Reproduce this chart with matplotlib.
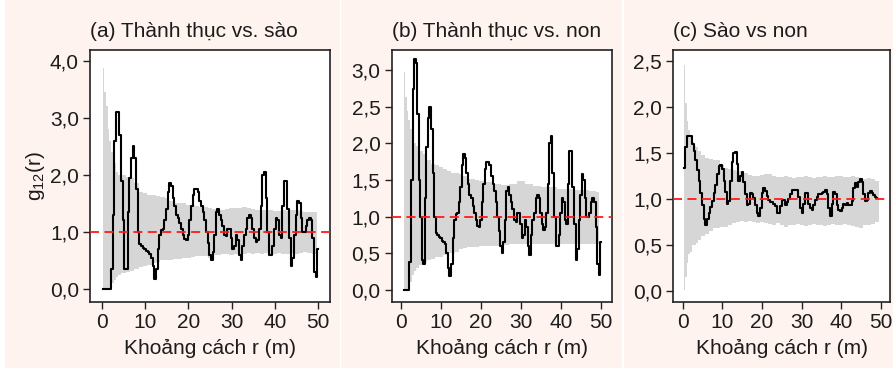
import numpy as np
import matplotlib
matplotlib.use("Agg")
import matplotlib.pyplot as plt
from matplotlib.patches import Rectangle
from matplotlib.ticker import FuncFormatter

plt.rcParams['font.family'] = ['Liberation Sans', 'DejaVu Sans']
plt.rcParams['mathtext.default'] = 'regular'

# ---------------- data ----------------
titles = ["(a) Thành thục vs. sào", "(b) Thành thục vs. non", "(c) Sào vs non"]
xlabel = "Khoảng cách r (m)"
ylabel = "g$_{12}$(r)"

# observed g12(r), panel (a)
g_a = [0, 0, 0, 0, 0, 0.35, 1.3, 2.6, 3.1, 3.1, 2.7, 1.9, 1.2, 0.35, 0.35,
       1.35, 1.95, 2.3, 2.5, 2.3, 1.75, 1.0, 0.78, 0.75, 0.72, 0.7, 0.67, 0.65,
       0.62, 0.55, 0.4, 0.18, 0.35, 0.7, 0.95, 1.03, 1.05, 1.2, 1.4, 1.7, 1.85,
       1.8, 1.6, 1.45, 1.3, 1.25, 1.15, 1.05, 0.95, 0.87, 0.85, 0.95, 1.2, 1.45,
       1.65, 1.75, 1.75, 1.7, 1.55, 1.45, 1.35, 1.2, 1.0, 0.8, 0.6, 0.5, 0.65,
       0.95, 1.35, 1.4, 1.3, 1.2, 1.1, 0.95, 0.92, 1.05, 1.05, 0.9, 0.7, 0.75,
       0.95, 0.85, 0.6, 0.5, 0.75, 0.95, 1.05, 1.25, 1.3, 1.25, 1.05, 0.9, 0.82,
       0.85, 1.05, 1.45, 2.0, 2.05, 1.6, 1.0, 0.6, 0.6, 0.75, 1.05, 1.25, 1.2,
       0.95, 0.9, 1.45, 1.9, 1.9, 1.4, 0.9, 0.4, 0.55, 0.95, 1.3, 1.55, 1.5,
       1.25, 1.0, 1.0, 1.1, 1.2, 1.25, 1.2, 0.9, 0.3, 0.2, 0.7]
r_a = np.linspace(0.385, 50, len(g_a))

# observed g12(r), panel (b)
g_b = [0, 0, 0, 0, 0.38, 1.5, 2.75, 3.15, 3.1, 2.4, 1.5, 1.0, 0.4, 0.35,
       1.25, 1.95, 2.35, 2.5, 2.2, 1.6, 1.0, 0.78, 0.75, 0.72, 0.7, 0.67, 0.65,
       0.62, 0.5, 0.3, 0.18, 0.35, 0.7, 0.95, 1.03, 1.05, 1.2, 1.4, 1.7, 1.85,
       1.8, 1.6, 1.45, 1.3, 1.25, 1.15, 1.05, 0.95, 0.87, 0.85, 0.95, 1.2, 1.45,
       1.65, 1.75, 1.75, 1.7, 1.55, 1.45, 1.35, 1.2, 1.0, 0.8, 0.6, 0.5, 0.65,
       0.95, 1.35, 1.4, 1.3, 1.2, 1.1, 0.95, 0.92, 1.05, 1.05, 0.9, 0.7, 0.75,
       0.95, 0.85, 0.6, 0.47, 0.75, 0.95, 1.05, 1.25, 1.3, 1.25, 1.05, 0.9, 0.82,
       0.85, 1.05, 1.45, 2.0, 2.1, 1.6, 1.0, 0.6, 0.6, 0.75, 1.05, 1.25, 1.2,
       0.95, 0.9, 1.45, 1.9, 1.9, 1.4, 0.9, 0.4, 0.55, 0.95, 1.3, 1.58, 1.5,
       1.25, 1.0, 1.0, 1.05, 1.2, 1.25, 1.2, 0.85, 0.35, 0.2, 0.65]
r_b = np.linspace(0.8, 50, len(g_b))

# observed g12(r), panel (c)
g_c = [1.34, 1.56, 1.68, 1.69, 1.68, 1.6, 1.52, 1.42, 1.32, 1.2, 1.07, 0.93,
       0.78, 0.72, 0.78, 0.85, 0.91, 0.98, 1.06, 1.15, 1.27, 1.36, 1.37, 1.33,
       1.2, 1.08, 0.95, 0.98, 1.2, 1.4, 1.5, 1.51, 1.38, 1.2, 1.25, 1.29, 1.18,
       1.05, 0.93, 0.95, 1.06, 1.05, 1.01, 0.93, 0.85, 0.81, 0.9, 1.06, 1.12,
       1.09, 1.03, 0.99, 0.97, 0.97, 0.95, 0.92, 0.85, 0.85, 0.92, 0.99, 0.99,
       0.93, 0.97, 1.0,
       1.05, 1.1, 1.1, 1.1, 1.1, 1.02, 0.9, 0.85, 0.95, 1.06, 1.07, 0.95, 0.9,
       0.88, 0.93, 0.99, 1.02, 1.05, 1.05, 1.06, 1.08, 1.1, 1.05, 0.9, 0.82,
       0.95, 1.08, 1.05, 0.93, 0.88, 0.87, 0.9, 0.95, 0.94, 0.96, 0.94, 0.93,
       0.98, 1.12, 1.17, 1.13, 1.18, 1.22, 1.18, 1.05, 0.98, 0.99, 1.07, 1.09,
       1.07, 1.04, 1.02, 1.01]
r_c = np.linspace(0.41, 49.1, len(g_c))

# simulation envelopes (r, upper, lower)
env_r_a = [0.4, 0.8, 1.2, 1.6, 2.0, 2.5, 3.0, 3.5, 4, 5, 6, 7, 8, 9, 10, 11, 12,
           13, 14, 15, 16, 17, 18, 19, 20, 21, 22, 23, 24, 25, 26, 27, 28, 29,
           30, 31, 32, 33, 34, 35, 36, 37, 38, 39, 40, 41, 42, 43, 44, 45, 46,
           47, 48, 49, 49.6]
env_hi_a = [3.87, 3.45, 3.2, 2.8, 2.6, 2.4, 2.2, 2.05, 2.0, 2.0, 1.97, 1.95,
            1.85, 1.7, 1.68, 1.65, 1.65, 1.63, 1.62, 1.6, 1.55, 1.5, 1.5, 1.5,
            1.48, 1.47, 1.45, 1.44, 1.44, 1.42, 1.4, 1.38, 1.38, 1.4, 1.42,
            1.42, 1.42, 1.43, 1.42, 1.4, 1.38, 1.38, 1.38, 1.38, 1.37, 1.37,
            1.38, 1.37, 1.38, 1.38, 1.37, 1.35, 1.34, 1.35, 1.35]
env_lo_a = [0, 0, 0, 0, 0, 0.1, 0.15, 0.2, 0.25, 0.28, 0.3, 0.32, 0.35, 0.39,
            0.4, 0.42, 0.45, 0.47, 0.5, 0.5, 0.5, 0.52, 0.53, 0.54, 0.55, 0.56,
            0.57, 0.58, 0.57, 0.55, 0.6, 0.6, 0.62, 0.62, 0.6, 0.62, 0.6, 0.62,
            0.63, 0.62, 0.63, 0.62, 0.63, 0.62, 0.62, 0.63, 0.62, 0.62, 0.63,
            0.62, 0.63, 0.65, 0.63, 0.62, 0.62]

env_r_b = [0.8, 1.2, 1.6, 2.0, 2.5, 3.0, 3.5, 4, 5, 6, 7, 8, 9, 10, 11, 12, 13,
           14, 15, 16, 17, 18, 19, 20, 22, 24, 26, 28, 30, 32, 34, 36, 38, 40,
           42, 44, 46, 48, 49.6]
env_hi_b = [2.98, 2.64, 2.45, 2.32, 2.2, 2.09, 2.0, 1.96, 1.9, 1.85, 1.77, 1.72,
            1.7, 1.68, 1.65, 1.62, 1.6, 1.6, 1.58, 1.55, 1.52, 1.52, 1.5, 1.48,
            1.47, 1.45, 1.43, 1.45, 1.48, 1.44, 1.42, 1.4, 1.4, 1.38, 1.38,
            1.37, 1.36, 1.35, 1.34]
env_lo_b = [0, 0, 0, 0, 0.1, 0.2, 0.25, 0.3, 0.33, 0.38, 0.4, 0.42, 0.44, 0.45,
            0.47, 0.5, 0.5, 0.52, 0.55, 0.57, 0.58, 0.58, 0.58, 0.6, 0.6, 0.6,
            0.61, 0.62, 0.62, 0.63, 0.62, 0.63, 0.62, 0.62, 0.63, 0.62, 0.63,
            0.62, 0.62]

env_r_c = [0.4, 0.8, 1.2, 1.6, 2.0, 2.5, 3.0, 3.5, 4, 5, 6, 7, 8, 9, 10, 11, 12,
           13, 14, 15, 16, 17, 18, 19, 20, 21, 22, 23, 24, 25, 26, 27, 28, 29,
           30, 31, 32, 33, 34, 35, 36, 37, 38, 39, 40, 41, 42, 43, 44, 45, 46,
           47, 48, 49, 49.6]
env_hi_c = [2.46, 2.04, 1.85, 1.75, 1.68, 1.62, 1.58, 1.56, 1.52, 1.48, 1.45,
            1.43, 1.42, 1.42, 1.37, 1.34, 1.33, 1.32, 1.3, 1.3, 1.28, 1.26, 1.25,
            1.25, 1.26, 1.27, 1.27, 1.25, 1.24, 1.24, 1.25, 1.24, 1.23, 1.24,
            1.24, 1.25, 1.24, 1.23, 1.24, 1.24, 1.25, 1.24, 1.24, 1.25, 1.25,
            1.24, 1.24, 1.25, 1.24, 1.23, 1.22, 1.23, 1.22, 1.2, 1.2]
env_lo_c = [0.01, 0.15, 0.3, 0.4, 0.42, 0.5, 0.5, 0.52, 0.55, 0.6, 0.62, 0.65,
            0.68, 0.68, 0.7, 0.7, 0.72, 0.74, 0.75, 0.76, 0.75, 0.76, 0.75, 0.74,
            0.75, 0.74, 0.73, 0.72, 0.74, 0.72, 0.7, 0.72, 0.72, 0.73, 0.72,
            0.71, 0.72, 0.73, 0.72, 0.72, 0.71, 0.72, 0.73, 0.72, 0.72, 0.73,
            0.72, 0.71, 0.7, 0.69, 0.72, 0.72, 0.73, 0.75, 0.75]

x_ticks = [0, 10, 20, 30, 40, 50]
y_ticks_a = [0.0, 1.0, 2.0, 3.0, 4.0]
y_ticks_b = [0.0, 0.5, 1.0, 1.5, 2.0, 2.5, 3.0]
y_ticks_c = [0.0, 0.5, 1.0, 1.5, 2.0, 2.5]

# ---------------- figure ----------------
W, H = 893, 368
fig = plt.figure(figsize=(W / 100, H / 100), dpi=100, facecolor="white")
pink = "#FEF3EE"
for x0, x1 in [(5, 340), (341, 622), (624, 893)]:
    fig.add_artist(Rectangle((x0 / W, 0), (x1 - x0) / W, 1,
                             transform=fig.transFigure, facecolor=pink,
                             edgecolor="none", zorder=-10))

panels = [
    dict(box=(90, 330), r=r_a, g=g_a, er=env_r_a, hi=env_hi_a, lo=env_lo_a,
         yt=y_ticks_a, ylim=(-0.23, 4.19), xlim=(-2.7, 52.7), fmt="{:.1f}"),
    dict(box=(391.7, 611.7), r=r_b, g=g_b, er=env_r_b, hi=env_hi_b, lo=env_lo_b,
         yt=y_ticks_b, ylim=(-0.17, 3.28), xlim=(-2.3, 52.7), fmt="{:.1f}"),
    dict(box=(673.3, 890), r=r_c, g=g_c, er=env_r_c, hi=env_hi_c, lo=env_lo_c,
         yt=y_ticks_c, ylim=(-0.12, 2.62), xlim=(-2.4, 52.3), fmt="{:.1f}"),
]

txt = "#1c1c1c"
fs = 15
top_px, bot_px = 50, 302
for i, p in enumerate(panels):
    l, r = p["box"]
    ax = fig.add_axes([l / W, (H - bot_px) / H, (r - l) / W, (bot_px - top_px) / H])
    ax.set_facecolor("white")
    ax.fill_between(p["er"], p["lo"], p["hi"], step="mid", color="#D6D6D6",
                    linewidth=0, zorder=1)
    ax.plot(p["r"], p["g"], drawstyle="steps-mid", color="black", lw=1.5, zorder=3)
    ax.axhline(1.0, color="#FF1A1A", lw=1.3, ls=(0, (5, 3)), zorder=4)
    ax.set_xlim(*p["xlim"])
    ax.set_ylim(*p["ylim"])
    ax.set_xticks(x_ticks)
    ax.set_yticks(p["yt"])
    ax.yaxis.set_major_formatter(FuncFormatter(lambda v, pos, f=p["fmt"]: f.format(v).replace(".", ",")))
    ax.tick_params(direction="out", length=5, width=1, colors="#222222",
                   labelcolor=txt, labelsize=fs, pad=3)
    for s in ax.spines.values():
        s.set_color("#222222")
        s.set_linewidth(1.2)
    ax.set_title(titles[i], loc="left", fontsize=fs, color=txt, pad=9.5)
    ax.set_xlabel(xlabel, fontsize=fs, color=txt, labelpad=5)
    if i == 0:
        ax.set_ylabel(ylabel, fontsize=fs, color=txt, labelpad=2)

fig.savefig("out.png", dpi=100, facecolor="white")
